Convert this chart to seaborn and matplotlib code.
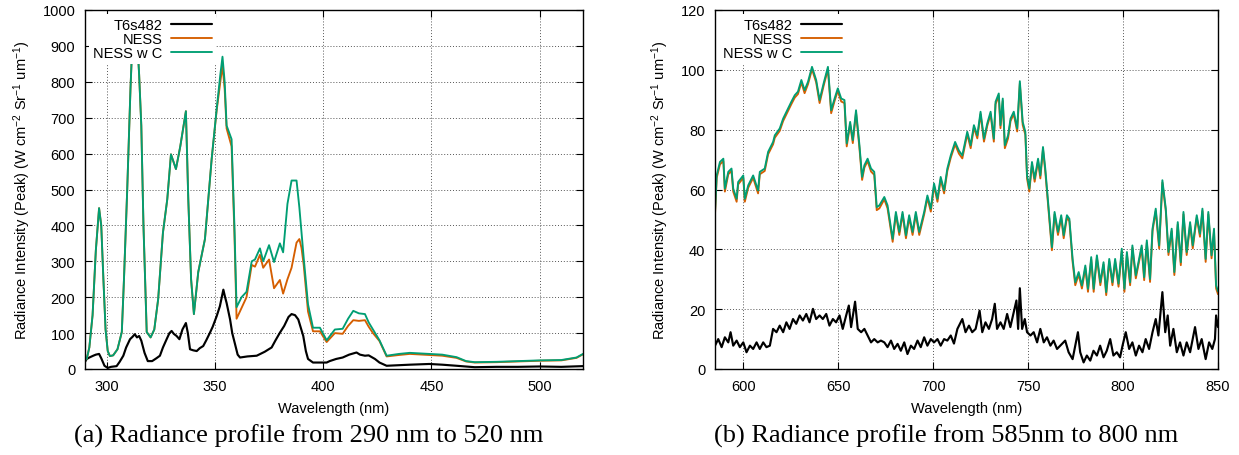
import matplotlib
matplotlib.use("Agg")
import matplotlib.pyplot as plt
import seaborn as sns

# ---------------- data: panel (a) 290-520 nm ----------------
WL_A = [290, 290.8, 292, 293.5, 295, 296.5, 297.5, 298.5, 299.5, 300.5,
        301.5, 303, 305, 307, 308, 309.5, 311, 312, 313, 314,
        315, 316, 317, 318.5, 320.3, 322, 323.8, 326, 328, 329.7,
        331, 332, 334, 336.6, 337.7, 339, 340.3, 342.3, 345.4, 348.5,
        350.8, 352.5, 353.5, 354.5, 355.4, 357.7, 359, 360, 362.3, 364.6,
        367, 368.5, 370.8, 372.3, 375, 377.3, 380, 381.5, 383.5, 385.4,
        387.7, 389, 390, 391, 393, 395.3, 398.5, 401.6, 405.4, 409,
        411.5, 413.9, 416.5, 419.3, 421, 423, 426, 429.3, 435, 440,
        449, 455, 461.6, 466, 470, 480, 490, 500, 510, 517,
        520]
NESSC_A = [25, 28, 60, 150, 330, 448, 400, 250, 110, 50,
           36, 38, 55, 103, 250, 500, 780, 930, 960, 930,
           820, 678, 400, 103, 88, 110, 195, 380, 473, 598,
           575, 557, 620, 718, 473, 250, 153, 270, 362, 585,
           724, 820, 870, 800, 678, 640, 400, 172, 200, 215,
           300, 305, 336, 300, 345, 298, 350, 325, 460, 525,
           525, 450, 380, 310, 180, 115, 115, 80, 110, 112,
           140, 162, 155, 153, 130, 110, 80, 37, 42, 45,
           42, 40, 33, 22, 19, 20, 22, 24, 25, 32,
           42]
NESS_A = [25, 28, 60, 150, 330, 448, 400, 250, 110, 50,
          36, 38, 55, 103, 250, 500, 780, 930, 960, 930,
          820, 678, 400, 103, 88, 110, 195, 380, 473, 598,
          575, 557, 620, 718, 473, 250, 153, 270, 362, 585,
          720, 800, 845, 780, 670, 620, 380, 140, 170, 200,
          290, 285, 318, 282, 305, 225, 248, 210, 250, 282,
          352, 362, 337, 290, 160, 105, 105, 75, 100, 98,
          120, 136, 134, 136, 118, 100, 78, 35, 39, 42,
          39, 37, 31, 21, 18, 19, 21, 23, 24, 31,
          41]
WL_A_T6 = [290, 290.8, 292, 293.8, 295, 296.5, 297.5, 299, 300.5, 302,
           304.6, 306, 307.7, 309, 310.8, 312, 313, 314, 315, 316,
           317.5, 319, 321, 323, 324.6, 326, 327.7, 329, 330, 331,
           332.3, 333.6, 335, 336.6, 337.5, 338.5, 340, 341.6, 343, 344.6,
           346, 347.7, 349, 350.8, 352.3, 353.9, 354.7, 355.4, 357, 358,
           359.3, 360.5, 361.6, 365, 369.3, 373, 376.2, 378, 380, 382,
           384, 385.4, 387, 388.5, 390.8, 392, 393, 395.3, 401.6, 403,
           406, 409, 412, 415.4, 417, 419.3, 421, 423.9, 426, 429.3,
           440, 449, 455, 461.6, 470, 480, 490, 500, 510, 520]
T6_A = [20, 28, 32, 37, 40, 42, 30, 9, 3, 6,
        8, 20, 37, 60, 83, 90, 97, 88, 92, 79,
        45, 22, 22, 30, 37, 60, 83, 100, 106, 98,
        92, 83, 110, 128, 100, 55, 52, 50, 58, 64,
        80, 101, 118, 147, 175, 221, 200, 184, 138, 100,
        69, 40, 32, 35, 37, 48, 60, 80, 101, 120,
        145, 153, 150, 138, 92, 50, 28, 18, 18, 22,
        28, 32, 40, 46, 40, 37, 38, 28, 18, 9,
        12, 14, 12, 9, 5, 6, 6, 7, 6, 8]

# ---------------- data: panel (b) 585-850 nm ----------------
WL_B = [585, 585.9, 587.6, 589.4, 590.2, 592, 593.7, 594.6, 596.4, 597.2,
        599.9, 600.7, 602.5, 605.1, 607.7, 608.6, 611.2, 613, 615.6, 616.5,
        619.1, 620.9, 623.5, 625.2, 627, 628.7, 630.5, 632.2, 634, 636.1,
        638.3, 640.1, 642.2, 644.5, 646.2, 648, 649.7, 651.5, 653.2, 654.4,
        656.2, 657.6, 659.3, 661.1, 662.5, 663.7, 665.4, 667.2, 668.9, 670.2,
        671.6, 674.2, 675.9, 678.6, 680.3, 682.1, 683.8, 685.6, 687.3, 689.1,
        690.8, 692.6, 695.2, 696.9, 698.7, 700.4, 702.2, 703.9, 705.7, 707.4,
        709.2, 711.5, 713.5, 715.3, 717.9, 719.7, 721.4, 723.2, 724.9, 726.7,
        728.4, 730.2, 731.9, 732.8, 734.5, 735.4, 736.6, 737.7, 739.4, 740.7,
        742.4, 744.2, 745.6, 747.1, 748.5, 749.4, 750.6, 752, 753.4, 755.2,
        756.4, 757.8, 759, 760.8, 762.5, 763.9, 765.7, 767.4, 768.7, 770.4,
        771.7, 773.4, 774.8, 776.6, 778.3, 780.1, 781.5, 783.2, 784.5, 786.2,
        788, 789.7, 791.1, 792.7, 794.4, 795.8, 797.6, 799.3, 800.7, 802,
        803.7, 804.9, 806.7, 808.1, 809.8, 811.1, 812.5, 814.2, 815.5, 817.2,
        819, 820.7, 822.5, 823.9, 825.6, 827, 828.8, 830.4, 831.8, 833.5,
        835.3, 836.7, 838.8, 840.5, 841.8, 843.5, 844.9, 846.6, 847.9, 849,
        850]
NESSC_B = [52.5, 64.7, 69.2, 70.3, 60.3, 65.9, 67, 60.3, 56.9, 62.5,
           64.7, 56.9, 61.4, 64.7, 59.7, 65.9, 67, 72.6, 75.9, 78.1,
           80.4, 83.7, 87.1, 89.3, 91.5, 92.7, 96.6, 93.2, 96, 101,
           96.6, 89.9, 95.4, 101, 86.5, 90.4, 93.8, 90.4, 89.9, 75.4,
           82.6, 76.5, 86.5, 74.8, 64.2, 68.1, 70.3, 67, 65.9, 54.1,
           54.7, 57.5, 54.7, 43.5, 52.5, 45.8, 52.5, 44.7, 51.4, 45.8,
           52.5, 45.8, 52.5, 58, 53.6, 62, 56.9, 64.2, 59.7, 67,
           71.4, 75.9, 73, 71.4, 79.3, 74.8, 81.5, 78.1, 86, 77,
           82, 86, 77, 89.3, 92.1, 81.5, 90.4, 74.8, 78.1, 83.7,
           86, 80.4, 96.2, 82.6, 79.3, 64.7, 60.3, 69.2, 63.6, 70.3,
           64.7, 74.2, 67, 53.6, 40.7, 52.5, 45.8, 51.4, 44.7, 51.4,
           50.2, 36.8, 29, 32.4, 27.9, 34.6, 26.8, 37.4, 26.8, 38,
           29, 35.7, 25.7, 36.8, 29, 36.8, 28.5, 40.2, 26.8, 39.1,
           29, 41.3, 31.3, 35.7, 41.3, 30.7, 43, 30.1, 46.9, 53.6,
           41.3, 63.1, 53.6, 39.1, 46.9, 32.4, 49.1, 35.7, 52.5, 39.1,
           49.1, 41.3, 51.4, 45.2, 53.6, 36.8, 52.5, 38, 46.9, 27.9,
           26]
NESS_B = [51.7, 63.9, 68.4, 69.5, 59.3, 65.1, 66.2, 59.3, 55.9, 61.7,
          63.9, 55.9, 60.6, 63.9, 58.7, 65.1, 66.2, 71.8, 75.1, 77.3,
          79.6, 82.9, 86.3, 88.5, 90.7, 91.9, 95.8, 92.2, 95.2, 100.2,
          95.8, 88.9, 94.6, 100.2, 85.5, 89.6, 93, 89.4, 88.9, 74.4,
          81.8, 75.5, 85.7, 73.8, 63.2, 67.3, 69.5, 66, 64.9, 53.1,
          53.7, 56.7, 53.7, 42.5, 51.7, 44.8, 51.7, 43.7, 50.6, 44.8,
          51.7, 44.8, 51.7, 57.2, 52.6, 61.2, 55.9, 63.4, 58.7, 66.2,
          70.6, 75.1, 72, 70.4, 78.5, 73.8, 80.7, 77.1, 85.2, 76,
          81.2, 85.2, 76, 88.5, 91.3, 80.5, 89.6, 73.8, 77.1, 82.9,
          85.2, 79.4, 95.4, 81.6, 78.3, 63.7, 59.3, 68.4, 62.6, 69.5,
          63.7, 73.4, 66, 52.6, 39.7, 51.7, 44.8, 50.6, 43.7, 50.6,
          49.4, 35.8, 28, 31.6, 26.9, 33.8, 25.8, 36.6, 25.8, 37.2,
          28, 34.9, 24.7, 36, 28, 36, 27.5, 39.4, 25.8, 38.3,
          28, 40.5, 30.3, 34.9, 40.5, 29.7, 42.2, 29.1, 46.1, 52.8,
          40.3, 62.3, 52.8, 38.1, 46.1, 31.4, 48.3, 34.7, 51.7, 38.1,
          48.3, 40.3, 50.6, 44.2, 52.8, 35.8, 51.7, 37, 46.1, 26.9,
          25]
WL_B_T6 = [585, 586.7, 588.5, 590.2, 592, 593.2, 594.6, 596.4, 598.1, 599.9,
           601.6, 603.4, 605.1, 606.9, 608.6, 610.4, 612.1, 613.9, 615.6, 617.4,
           619.1, 620.9, 622.6, 624.3, 626.1, 627.8, 629.6, 631.3, 633.1, 634.8,
           636.6, 638.3, 640.1, 641.8, 643.6, 645.3, 647.1, 648.8, 650.6, 652.3,
           654.1, 655.5, 656.7, 658.8, 660.2, 662, 663.7, 665.4, 667.2, 668.9,
           670.7, 672.4, 674.2, 675.9, 677.7, 679.4, 681.2, 682.9, 684.7, 686.4,
           688.2, 689.9, 691.7, 693.4, 695.2, 696.9, 698.7, 700.4, 702.2, 703.9,
           705.7, 707.4, 709.2, 710.9, 712.7, 715.3, 717, 718.8, 720.5, 722.3,
           724.4, 725.8, 727.5, 729.3, 731, 732.4, 733.6, 735.4, 737.1, 738.9,
           740.6, 742.4, 743.8, 744.7, 745.6, 746.8, 748.2, 749.4, 751.2, 752.9,
           754.7, 756.4, 758.2, 759.9, 761.7, 763.4, 765.2, 766.9, 769.5, 771.3,
           773.4, 774.8, 776.2, 777.4, 779.2, 780.9, 782.7, 784.4, 786.2, 787.9,
           789.7, 791.4, 793.2, 794.9, 796.7, 798.4, 799.7, 801.4, 803.2, 804.9,
           806.7, 808.4, 810.2, 811.9, 813.7, 815.5, 817.2, 818.6, 820.7, 822.2,
           823.5, 824.8, 826.5, 828.3, 830, 831.8, 833.5, 835.3, 837.9, 839.7,
           841.4, 843.5, 845.3, 847, 848.4, 849, 850]
T6_B = [7.8, 10, 7.3, 10.6, 8.9, 12.3, 7.8, 9.5, 7.3, 8.9,
        5.6, 7.8, 6.7, 8.9, 6.7, 8.9, 7.3, 7.8, 13.4, 12.3,
        14.5, 12.3, 15.6, 13.4, 16.7, 15.1, 17.9, 16.2, 18.4, 15.6,
        20.1, 16.7, 17.9, 16.7, 18.4, 14.5, 16.7, 15.6, 17.9, 13.4,
        17.9, 21.2, 14, 22.5, 13.4, 12.3, 13.4, 11.2, 8.9, 10,
        8.9, 9.5, 8.9, 7.3, 9.5, 6.7, 8.4, 6.1, 8.9, 5,
        7.8, 6.7, 9.5, 7.3, 10.6, 7.8, 10, 8.9, 10, 7.8,
        10, 9.5, 11.2, 8.5, 13.4, 16.7, 12.3, 14.5, 12.3, 13.4,
        19.5, 12.3, 15.6, 13.4, 16.7, 21.8, 13.4, 15.6, 13.4, 18.4,
        14, 19, 22.9, 13.4, 27, 13.4, 16.7, 12.3, 11.2, 12.3,
        8.9, 13.4, 8.9, 10.6, 7.8, 9.5, 6.7, 7.8, 9.5, 5.6,
        3.3, 7.8, 12.3, 5.6, 2.2, 4.5, 2.8, 6.1, 4.5, 7.8,
        3.9, 6.1, 10, 4.5, 5.6, 3.9, 7.8, 12.3, 6.7, 8.9,
        4.5, 7.8, 5.6, 10, 6.7, 12.3, 16.7, 11.2, 25.7, 12.3,
        17.9, 7.8, 13.4, 5.6, 8.9, 4.5, 8.9, 5.6, 14, 6.7,
        10, 3.3, 8.9, 6.7, 10, 17.9, 14]

SERIES = ["T6s482", "NESS", "NESS w C"]
COLORS = ["#000000", "#D55E00", "#009E73"]
YLABEL = r"Radiance Intensity (Peak) (W cm$^{-2}$ Sr$^{-1}$ um$^{-1}$)"
CAPTIONS = ["(a) Radiance profile from 290 nm to 520 nm",
            "(b) Radiance profile from 585nm to 800 nm"]

# ---------------- style ----------------
sns.set_theme(style="ticks")
plt.rcParams['font.family'] = ['Liberation Sans', 'DejaVu Sans']
plt.rcParams['mathtext.fontset'] = 'custom'
plt.rcParams['mathtext.rm'] = 'Liberation Sans'
plt.rcParams['mathtext.it'] = 'Liberation Sans:italic'
plt.rcParams['mathtext.bf'] = 'Liberation Sans:bold'
plt.rcParams['text.color'] = 'black'
plt.rcParams['axes.labelcolor'] = 'black'
plt.rcParams['xtick.color'] = 'black'
plt.rcParams['ytick.color'] = 'black'

W, H = 1239, 456
fig = plt.figure(figsize=(W / 100, H / 100), dpi=100)
ax_a = fig.add_axes([85 / W, 1 - 370 / H, 498 / W, 359 / H])
ax_b = fig.add_axes([715 / W, 1 - 370 / H, 503 / W, 359 / H])

LW = 1.35
FS = 10.5


def draw(ax, wl_t6, t6, wl, ness, nessc):
    sns.lineplot(x=wl_t6, y=t6, ax=ax, color=COLORS[0], lw=LW + 0.2, label=SERIES[0])
    sns.lineplot(x=wl, y=ness, ax=ax, color=COLORS[1], lw=LW, label=SERIES[1])
    sns.lineplot(x=wl, y=nessc, ax=ax, color=COLORS[2], lw=LW, label=SERIES[2])


def style(ax, xlim, ylim, xticks, yticks):
    ax.set_xlim(*xlim)
    ax.set_ylim(*ylim)
    ax.set_xticks(xticks)
    ax.set_yticks(yticks)
    ax.tick_params(direction='in', top=True, right=True, length=5, width=0.8,
                   labelsize=FS, colors='black', pad=7)
    ax.grid(True, linestyle=(0, (1, 2)), color='#555555', linewidth=0.7)
    for s in ax.spines.values():
        s.set_visible(True)
        s.set_linewidth(1.0)
        s.set_color('black')
    ax.set_xlabel('Wavelength (nm)', fontsize=FS, labelpad=6, color='black')
    ax.set_ylabel(YLABEL, fontsize=FS, labelpad=7, color='black')
    leg = ax.legend(loc='upper left', markerfirst=False, frameon=True, fancybox=False,
                    framealpha=1, edgecolor='none', facecolor='white', fontsize=FS,
                    handlelength=2.8, labelspacing=0.0, borderpad=0.3,
                    borderaxespad=0.25, handletextpad=0.6)
    for t in leg.get_texts():
        t.set_color('black')
    leg.set_zorder(5)


draw(ax_a, WL_A_T6, T6_A, WL_A, NESS_A, NESSC_A)
style(ax_a, (290, 520), (0, 1000), [300, 350, 400, 450, 500], list(range(0, 1001, 100)))
draw(ax_b, WL_B_T6, T6_B, WL_B, NESS_B, NESSC_B)
style(ax_b, (585, 850), (0, 120), [600, 650, 700, 750, 800, 850], list(range(0, 121, 20)))

fig.text(309 / W, 1 - 436 / H, CAPTIONS[0], family='Liberation Serif', fontsize=19,
         ha='center', va='center', color='black')
fig.text(946 / W, 1 - 436 / H, CAPTIONS[1], family='Liberation Serif', fontsize=19,
         ha='center', va='center', color='black')

fig.savefig('out.png', dpi=100, facecolor='white')
